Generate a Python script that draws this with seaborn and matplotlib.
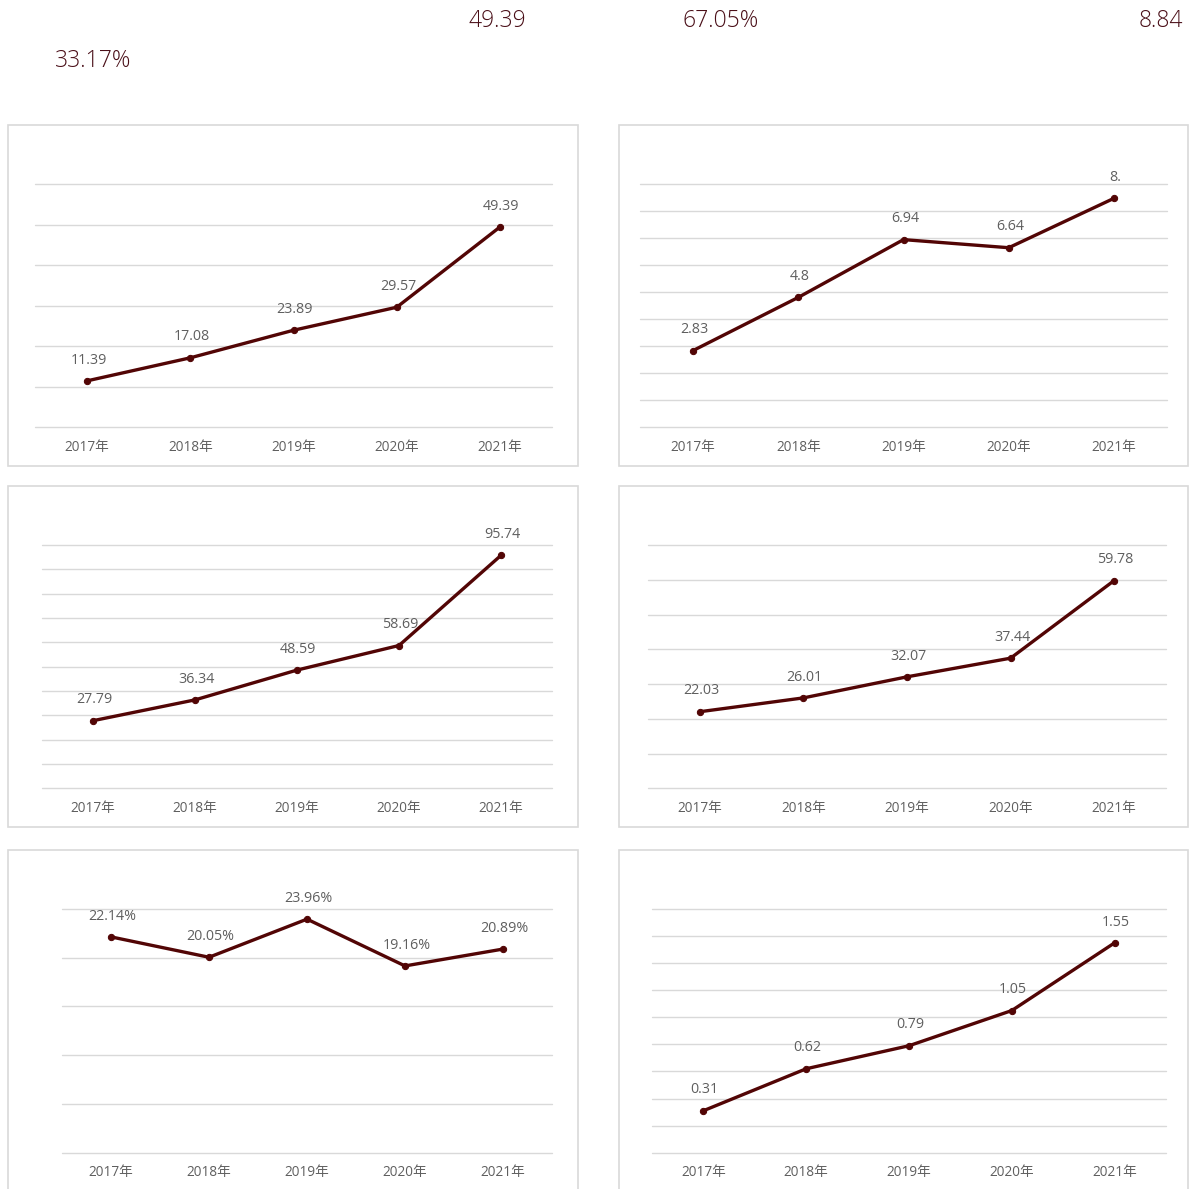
import matplotlib
matplotlib.use("Agg")
import matplotlib.pyplot as plt
import seaborn as sns
import numpy as np
import pandas as pd
from matplotlib.patches import Rectangle

sns.set_theme(style="white")
plt.rcParams['font.family'] = ['Open Sans', 'Noto Sans CJK SC', 'DejaVu Sans']

# ---------------- data ----------------
years = ['2017年', '2018年', '2019年', '2020年', '2021年']

p1_values = [11.39, 17.08, 23.89, 29.57, 49.39]
p1_labels = ['11.39', '17.08', '23.89', '29.57', '49.39']

p2_values = [2.83, 4.80, 6.94, 6.64, 8.47]
p2_labels = ['2.83', '4.8', '6.94', '6.64', '8.']

p3_values = [27.79, 36.34, 48.59, 58.69, 95.74]
p3_labels = ['27.79', '36.34', '48.59', '58.69', '95.74']

p4_values = [22.03, 26.01, 32.07, 37.44, 59.78]
p4_labels = ['22.03', '26.01', '32.07', '37.44', '59.78']

p5_values = [22.14, 20.05, 23.96, 19.16, 20.89]
p5_labels = ['22.14%', '20.05%', '23.96%', '19.16%', '20.89%']

p6_values = [0.31, 0.62, 0.79, 1.05, 1.55]
p6_labels = ['0.31', '0.62', '0.79', '1.05', '1.55']

headline_texts = ['33.17%', '49.39', '67.05%', '8.84']

# ---------------- layout ----------------
W, H = 1195, 1189
fig = plt.figure(figsize=(W / 100, H / 100), dpi=100)
fig.patch.set_facecolor('white')

LINE_C = '#520505'
TXT_C = '#5f5f5f'
GRID_C = '#d9d9d9'
HEAD_C = '#4a0f18'


def fig_rect(x0, y0, x1, y1):
    return [x0 / W, 1 - y1 / H, (x1 - x0) / W, (y1 - y0) / H]


# panel frames (pixel boxes)
frames = [(8, 125, 578, 466), (619, 125, 1188, 466),
          (8, 486, 578, 827), (619, 486, 1188, 827),
          (8, 850, 578, 1200), (619, 850, 1188, 1200)]
for (x0, y0, x1, y1) in frames:
    fig.patches.append(Rectangle((x0 / W, 1 - y1 / H), (x1 - x0) / W, (y1 - y0) / H,
                                 transform=fig.transFigure, fill=False,
                                 edgecolor=GRID_C, linewidth=1.2))

panels = [
    (p1_values, p1_labels, (35.4, 184, 551.6, 427), 60, 10),
    (p2_values, p2_labels, (640.4, 184, 1166.6, 427), 9, 1),
    (p3_values, p3_labels, (42, 545, 552, 788.3), 100, 10),
    (p4_values, p4_labels, (648, 545, 1166, 788.3), 70, 10),
    (p5_values, p5_labels, (62, 909, 552, 1152.7), 25, 5),
    (p6_values, p6_labels, (652, 909, 1166, 1152.7), 1.8, 0.2),
]

for vals, labs, box, top, step in panels:
    ax = fig.add_axes(fig_rect(*box))
    df = pd.DataFrame({'year': years, 'value': vals})
    df['pos'] = np.arange(len(years))
    ticks = np.linspace(0, top, int(round(top / step)) + 1)
    for t in ticks:
        ax.axhline(t, color=GRID_C, linewidth=1, clip_on=False, zorder=0)
    sns.lineplot(data=df, x='pos', y='value', ax=ax, color=LINE_C,
                 linewidth=2.4, marker='o', markersize=4.5,
                 markeredgecolor=LINE_C, markerfacecolor=LINE_C, zorder=3)
    ax.set_xlim(-0.5, len(years) - 0.5)
    ax.set_ylim(0, top)
    ax.set_yticks([])
    ax.grid(False)
    ax.set_xticks(df['pos'])
    ax.set_xticklabels(years, color=TXT_C, fontsize=9.8)
    ax.tick_params(axis='x', length=0, pad=9)
    for s in ax.spines.values():
        s.set_visible(False)
    ax.set_xlabel('')
    ax.set_ylabel('')
    ax.set_facecolor('none')
    for xi, yi, lab in zip(df['pos'], vals, labs):
        ax.annotate(lab, (xi, yi), xytext=(1, 15), textcoords='offset points',
                    ha='center', va='center', fontsize=10.3, color=TXT_C,
                    annotation_clip=False)

# headline numbers
fig.text(55 / W, 1 - 61 / H, headline_texts[0], ha='left', va='center',
         fontsize=16.5, color=HEAD_C, fontweight='light')
fig.text(526 / W, 1 - 21 / H, headline_texts[1], ha='right', va='center',
         fontsize=16.5, color=HEAD_C, fontweight='light')
fig.text(683 / W, 1 - 21 / H, headline_texts[2], ha='left', va='center',
         fontsize=16.5, color=HEAD_C, fontweight='light')
fig.text(1183 / W, 1 - 21 / H, headline_texts[3], ha='right', va='center',
         fontsize=16.5, color=HEAD_C, fontweight='light')

fig.savefig('out.png', dpi=100, facecolor='white')
